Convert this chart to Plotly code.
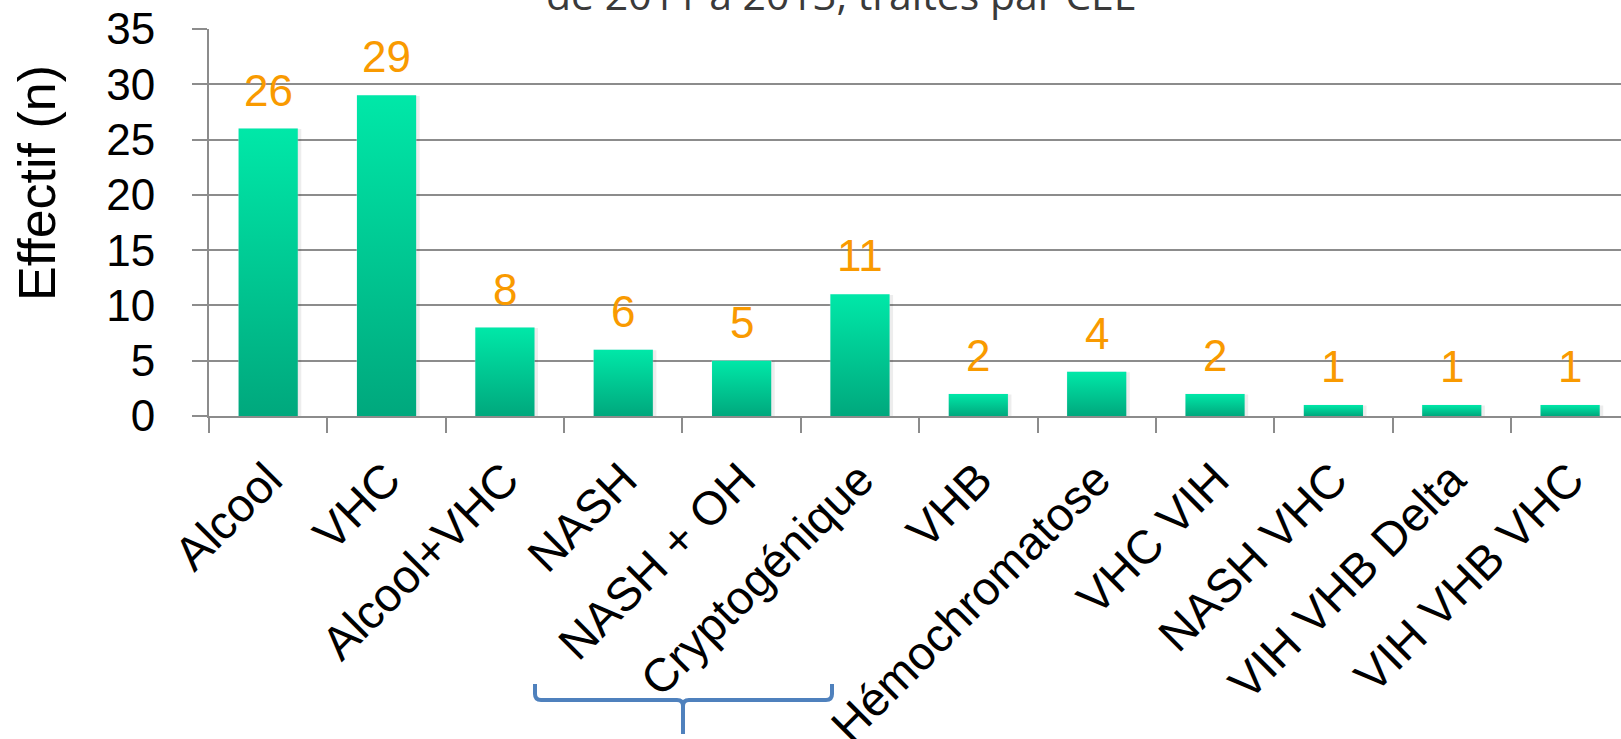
import plotly.graph_objects as go

# Étiologies et effectifs
categories = ["Alcool", "VHC", "Alcool+VHC", "NASH", "NASH + OH", "Cryptogénique",
              "VHB", "Hémochromatose", "VHC VIH", "NASH VHC", "VIH VHB Delta", "VIH VHB VHC"]
effectifs = [26, 29, 8, 6, 5, 11, 2, 4, 2, 1, 1, 1]
y_ticks = [0, 5, 10, 15, 20, 25, 30, 35]

W, H = 1621, 739
M_L, M_R, M_T, M_B = 209, 0, 29, 323
PLOT_W = W - M_L - M_R
PLOT_H = H - M_T - M_B
X_RANGE = [-0.5, 11.43]
BAR_W = 0.5

GRID = "#8c8c8c"
ORANGE = "#F99A00"
TXT = "Liberation Sans, Arial, sans-serif"


def px_to_paper(px, py):
    return (px - M_L) / PLOT_W, (H - M_B - py) / PLOT_H


fig = go.Figure()

# Transparent bars define the category axis
fig.add_trace(go.Bar(x=categories, y=effectifs, marker_color="rgba(0,0,0,0)",
                     width=BAR_W, hoverinfo="x+y", showlegend=False))

# Gradient-filled bars drawn on an overlaid numeric axis
for i, v in enumerate(effectifs):
    x0, x1 = i - BAR_W / 2, i + BAR_W / 2
    # soft shadow
    fig.add_trace(go.Scatter(
        x=[x0 + 0.02, x1 + 0.03, x1 + 0.03, x0 + 0.02, x0 + 0.02],
        y=[-0.12, -0.12, v - 0.05, v - 0.05, -0.12],
        xaxis="x2", mode="lines", line=dict(width=0), fill="toself",
        fillcolor="rgba(0,0,0,0.07)", hoverinfo="skip", showlegend=False))
    fig.add_trace(go.Scatter(
        x=[x0, x1, x1, x0, x0], y=[0, 0, v, v, 0],
        xaxis="x2", mode="lines", line=dict(width=0), fill="toself",
        fillgradient=dict(type="vertical",
                          colorscale=[[0, "#00A87D"], [1, "#00E8A8"]]),
        hoverinfo="skip", showlegend=False))

annotations = []
for c, v in zip(categories, effectifs):
    annotations.append(dict(x=c, y=v, xref="x", yref="y", text=str(v),
                            showarrow=False, yanchor="bottom", yshift=12,
                            font=dict(family=TXT, size=44, color=ORANGE)))

# Axis title
tx, ty = px_to_paper(37, 183)
annotations.append(dict(x=tx, y=ty, xref="paper", yref="paper", text="Effectif (n)",
                        textangle=-90, showarrow=False, xanchor="center", yanchor="middle",
                        font=dict(family=TXT, size=52, color="#000000")))
# Chart title, partly above the top edge
hx, hy = px_to_paper(840, 24)
annotations.append(dict(x=hx, y=hy, xref="paper", yref="paper",
                        text="de 2011 à 2013, traités par CEL",
                        showarrow=False, xanchor="center", yanchor="bottom",
                        font=dict(family="Open Sans, sans-serif", size=41, color="#3a3a3a")))

# Brace under two categories
brace_pts = [
    ("M", 535, 684), ("L", 535, 694), ("Q", 535, 700, 541, 700), ("L", 677, 700),
    ("Q", 683, 700, 683, 706), ("L", 683, 734), ("M", 683, 706),
    ("Q", 683, 700, 689, 700), ("L", 826, 700), ("Q", 832, 700, 832, 694), ("L", 832, 684),
]
path = ""
for seg in brace_pts:
    cmd, coords = seg[0], seg[1:]
    pts = []
    for k in range(0, len(coords), 2):
        xp, yp = px_to_paper(coords[k], coords[k + 1])
        pts.append(f"{xp:.5f},{yp:.5f}")
    path += cmd + " " + " ".join(pts) + " "

shapes = [dict(type="path", path=path.strip(), xref="paper", yref="paper",
               line=dict(color="#4F81BD", width=4))]

fig.update_layout(
    width=W, height=H,
    margin=dict(l=M_L, r=M_R, t=M_T, b=M_B, pad=0, autoexpand=False),
    paper_bgcolor="white", plot_bgcolor="white",
    bargap=0.5, showlegend=False,
    annotations=annotations, shapes=shapes,
    xaxis=dict(type="category", range=X_RANGE, tickson="boundaries", automargin=False,
               ticks="outside", ticklen=15, tickwidth=2, tickcolor=GRID,
               showline=True, linecolor=GRID, linewidth=2, showgrid=False,
               tickangle=-45, ticklabelstandoff=15,
               tickfont=dict(family=TXT, size=47, color="#000000")),
    xaxis2=dict(overlaying="x", range=X_RANGE, visible=False, fixedrange=True),
    yaxis=dict(range=[0, 35], tickvals=y_ticks, ticks="outside", ticklen=15,
               automargin=False,
               tickwidth=2, tickcolor=GRID, showline=True, linecolor=GRID, linewidth=2,
               showgrid=True, gridcolor=GRID, gridwidth=2, zeroline=False,
               ticklabelstandoff=28,
               tickfont=dict(family=TXT, size=44, color="#000000")),
)

fig.write_html("out.html")
